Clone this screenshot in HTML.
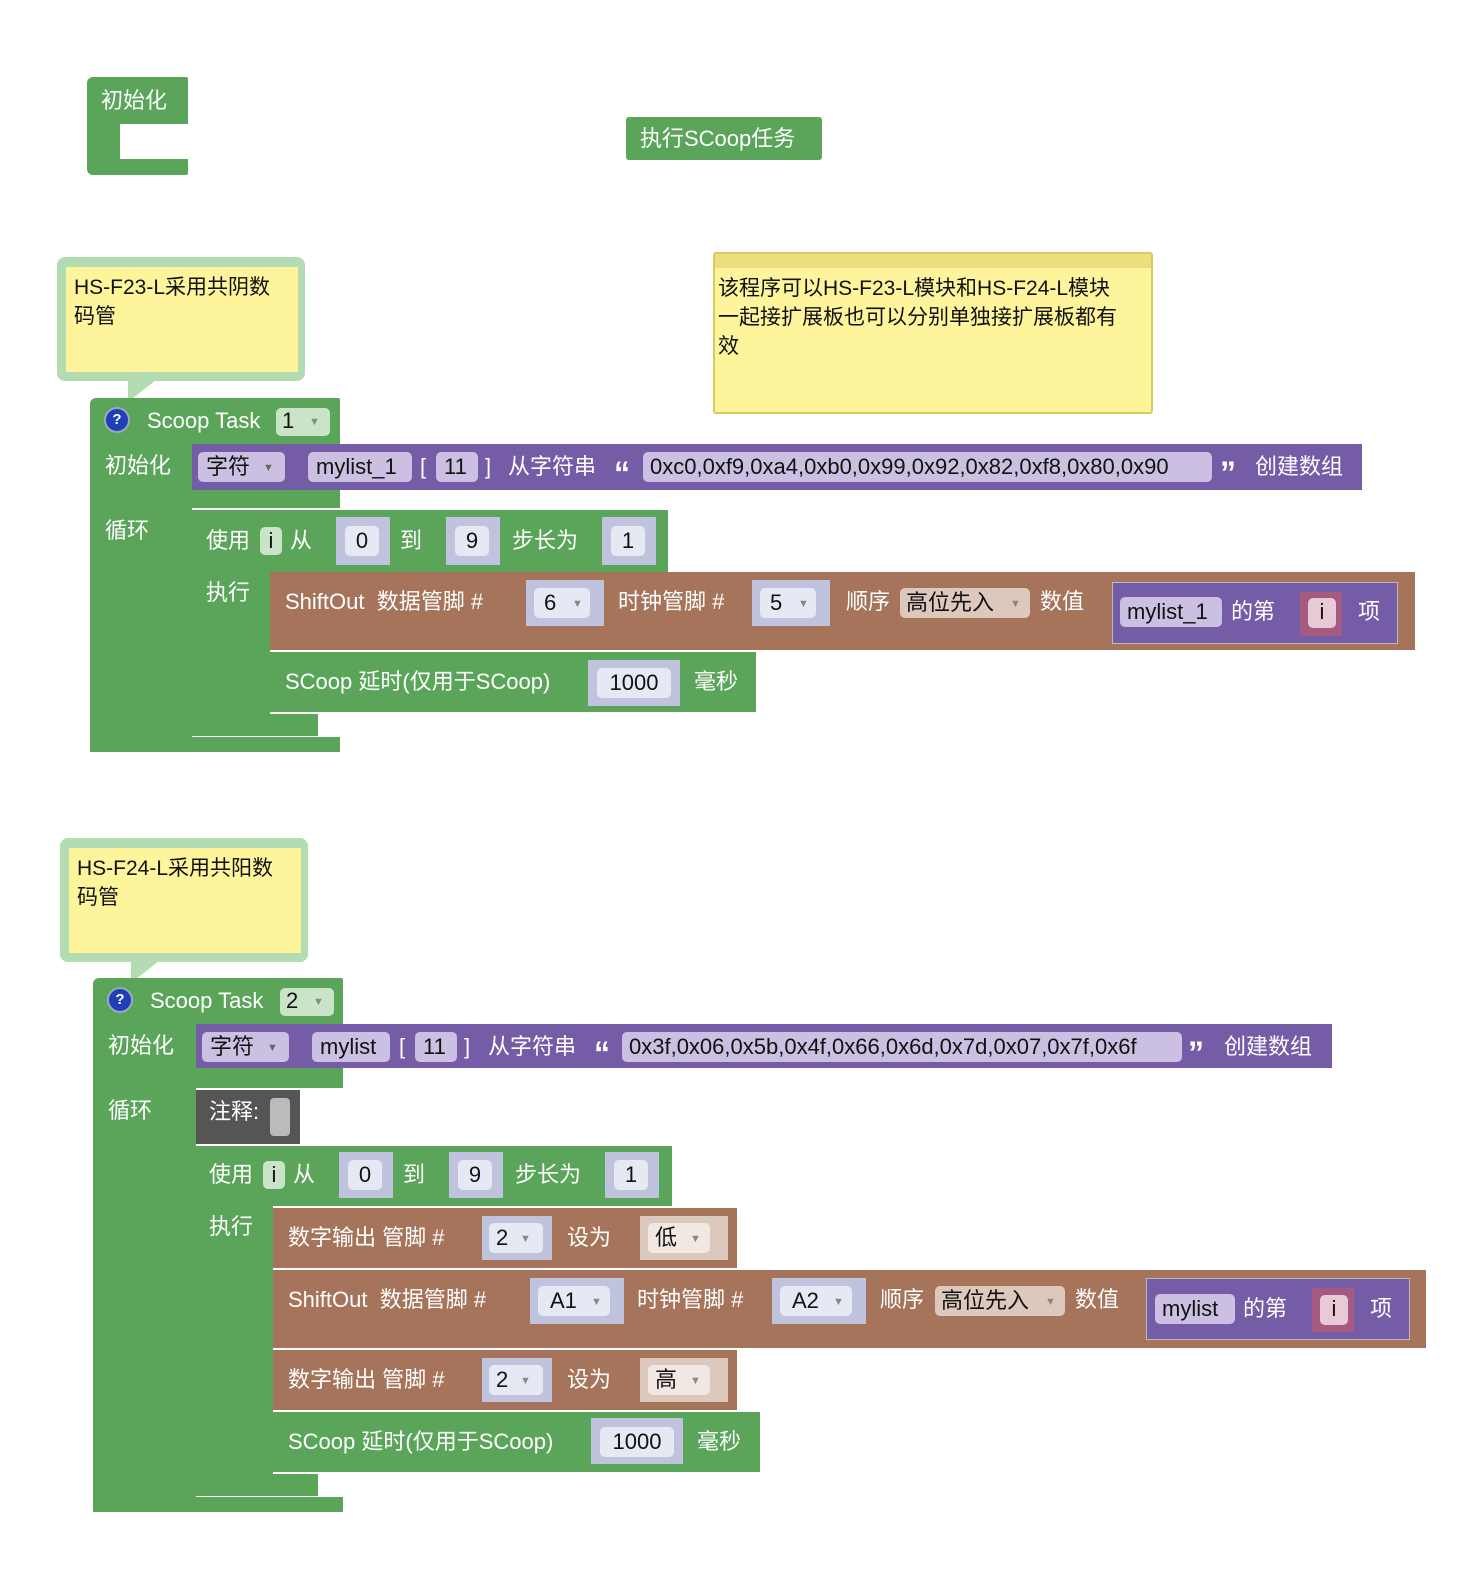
<!DOCTYPE html>
<html><head><meta charset="utf-8"><style>
body{margin:0;width:1477px;height:1587px;background:#fff;position:relative;overflow:hidden;font-family:"Liberation Sans","Noto Sans CJK SC",sans-serif}
div{position:absolute;box-sizing:border-box}
.g{background:#5ba55b}.p{background:#745ca6}.b{background:#a5745b}.d{background:#555}
.t{color:#fff;font-size:22px;line-height:30px;white-space:nowrap}
.q{color:#fff;font-size:32px;font-weight:bold;line-height:30px;white-space:nowrap}
.k{color:#111;font-size:22px;line-height:30px;white-space:nowrap;text-align:center}
.fp{background:#cbc0e2;border-radius:5px}
.fg{background:#c9e4c9;border-radius:5px}
.so{background:#c0c3dd}
.fi{background:#e6e8f4;border-radius:5px}
.fb{background:#dcc8bd;border-radius:5px}
.ar{color:#888;font-size:11px}
.cm{background:#fef49c;color:#111;font-size:21px;line-height:29px;padding:6px 8px}
</style></head><body>

<div class="g" style="left:87px;top:77px;width:101px;height:98px;border-radius:6px 2px 2px 6px"></div>
<div style="left:120px;top:124px;width:68px;height:35px;background:#fff"></div>
<div class="t" style="left:101px;top:86px">初始化</div>
<div class="g" style="left:626px;top:117px;width:196px;height:43px;border-radius:3px"></div>
<div class="t" style="left:640px;top:124px">执行SCoop任务</div>

<div style="left:57px;top:257px;width:248px;height:124px;background:#b3dcb2;border-radius:8px"></div>
<div class="cm" style="left:66px;top:267px;width:232px;height:105px">HS-F23-L采用共阴数<br>码管</div>
<div style="left:128px;top:380px;width:0;height:0;border-left:28px solid #b3dcb2;border-bottom:22px solid transparent;"></div>
<div style="left:713px;top:252px;width:440px;height:162px;background:#fef49c;border:2px solid #d8cb5e;border-radius:3px"></div>
<div style="left:715px;top:254px;width:436px;height:14px;background:#ece07e"></div>
<div class="cm" style="left:710px;top:270px;width:425px;padding:4px 8px;background:transparent">该程序可以HS-F23-L模块和HS-F24-L模块一起接扩展板也可以分别单独接扩展板都有效</div>

<!-- BLOCK 1 -->
<div class="g" style="left:90px;top:398px;width:250px;height:46px;border-radius:6px 2px 0 0"></div>
<div class="g" style="left:90px;top:440px;width:102px;height:312px"></div>
<div class="g" style="left:90px;top:737px;width:250px;height:15px"></div>
<div class="g" style="left:192px;top:488px;width:148px;height:20px"></div>
<div style="left:104px;top:407px;width:26px;height:26px;border-radius:50%;background:#1f3fb8;border:2px solid #9ab;color:#fff;font-size:15px;font-weight:bold;text-align:center;line-height:22px">?</div>
<div class="t" style="left:147px;top:406px">Scoop Task</div>
<div class="fg" style="left:276px;top:408px;width:54px;height:28px"></div>
<div class="k" style="left:282px;top:406px">1</div><div class="ar" style="left:309px;top:416px">▼</div>
<div class="t" style="left:105px;top:451px">初始化</div>
<div class="t" style="left:105px;top:516px">循环</div>
<div class="p" style="left:192px;top:444px;width:1170px;height:46px"></div>
<div class="fp" style="left:198px;top:452px;width:87px;height:30px"></div>
<div class="k" style="left:206px;top:452px">字符</div><div class="ar" style="left:263px;top:462px;color:#666">▼</div>
<div class="fp" style="left:308px;top:452px;width:104px;height:30px"></div>
<div class="k" style="left:316px;top:452px">mylist_1</div>
<div class="t" style="left:420px;top:452px">[</div>
<div class="fp" style="left:436px;top:452px;width:42px;height:30px"></div>
<div class="k" style="left:444px;top:452px">11</div>
<div class="t" style="left:485px;top:452px">]</div>
<div class="t" style="left:508px;top:452px">从字符串</div>
<div class="q" style="left:614px;top:458px">“</div>
<div class="fp" style="left:643px;top:452px;width:569px;height:30px"></div>
<div class="k" style="left:650px;top:452px">0xc0,0xf9,0xa4,0xb0,0x99,0x92,0x82,0xf8,0x80,0x90</div>
<div class="q" style="left:1220px;top:458px">”</div>
<div class="t" style="left:1255px;top:452px">创建数组</div>
<div class="g" style="left:192px;top:510px;width:476px;height:62px"></div>
<div class="g" style="left:192px;top:560px;width:78px;height:176px"></div>
<div class="g" style="left:192px;top:714px;width:126px;height:22px"></div>
<div class="t" style="left:206px;top:526px">使用</div>
<div class="fg" style="left:260px;top:527px;width:22px;height:28px"></div><div class="k" style="left:260px;top:526px;width:22px">i</div>
<div class="t" style="left:290px;top:526px">从</div>
<div class="so" style="left:336px;top:517px;width:54px;height:48px"></div><div class="fi" style="left:345px;top:526px;width:34px;height:30px"></div><div class="k" style="left:345px;top:526px;width:34px">0</div>
<div class="t" style="left:400px;top:526px">到</div>
<div class="so" style="left:446px;top:517px;width:54px;height:48px"></div><div class="fi" style="left:455px;top:526px;width:34px;height:30px"></div><div class="k" style="left:455px;top:526px;width:34px">9</div>
<div class="t" style="left:512px;top:526px">步长为</div>
<div class="so" style="left:602px;top:517px;width:54px;height:48px"></div><div class="fi" style="left:611px;top:526px;width:34px;height:30px"></div><div class="k" style="left:611px;top:526px;width:34px">1</div>
<div class="t" style="left:206px;top:578px">执行</div>
<div class="b" style="left:270px;top:572px;width:1145px;height:78px"></div>
<div class="t" style="left:285px;top:587px">ShiftOut&nbsp; 数据管脚 #</div>
<div class="so" style="left:526px;top:580px;width:78px;height:46px"></div><div class="fi" style="left:534px;top:588px;width:56px;height:30px"></div><div class="k" style="left:544px;top:588px">6</div><div class="ar" style="left:572px;top:598px">▼</div>
<div class="t" style="left:618px;top:587px">时钟管脚 #</div>
<div class="so" style="left:752px;top:580px;width:78px;height:46px"></div><div class="fi" style="left:760px;top:588px;width:56px;height:30px"></div><div class="k" style="left:770px;top:588px">5</div><div class="ar" style="left:798px;top:598px">▼</div>
<div class="t" style="left:846px;top:587px">顺序</div>
<div class="fb" style="left:900px;top:588px;width:130px;height:30px"></div><div class="k" style="left:906px;top:588px">高位先入</div><div class="ar" style="left:1010px;top:598px">▼</div>
<div class="t" style="left:1040px;top:587px">数值</div>
<div class="p" style="left:1112px;top:582px;width:286px;height:62px;border:1px solid #bbb"></div>
<div class="fp" style="left:1120px;top:597px;width:102px;height:30px"></div><div class="k" style="left:1127px;top:597px">mylist_1</div>
<div class="t" style="left:1231px;top:597px">的第</div>
<div style="left:1300px;top:592px;width:42px;height:44px;background:#a55b80"></div><div style="left:1308px;top:598px;width:28px;height:30px;background:#e8c9d6;border-radius:5px"></div><div class="k" style="left:1308px;top:597px;width:28px">i</div>
<div class="t" style="left:1358px;top:597px">项</div>
<div class="g" style="left:270px;top:652px;width:486px;height:60px"></div>
<div class="t" style="left:285px;top:667px">SCoop 延时(仅用于SCoop)</div>
<div class="so" style="left:588px;top:660px;width:92px;height:46px"></div><div class="fi" style="left:597px;top:668px;width:74px;height:30px"></div><div class="k" style="left:597px;top:668px;width:74px">1000</div>
<div class="t" style="left:694px;top:667px">毫秒</div>

<div style="left:60px;top:838px;width:248px;height:124px;background:#b3dcb2;border-radius:8px"></div>
<div class="cm" style="left:69px;top:848px;width:232px;height:105px">HS-F24-L采用共阳数<br>码管</div>
<div style="left:131px;top:961px;width:0;height:0;border-left:28px solid #b3dcb2;border-bottom:22px solid transparent;"></div>

<!-- BLOCK 2 -->
<div class="g" style="left:93px;top:978px;width:250px;height:46px;border-radius:6px 2px 0 0"></div>
<div class="g" style="left:93px;top:1020px;width:103px;height:492px"></div>
<div class="g" style="left:93px;top:1497px;width:250px;height:15px"></div>
<div class="g" style="left:196px;top:1068px;width:147px;height:20px"></div>
<div style="left:107px;top:987px;width:26px;height:26px;border-radius:50%;background:#1f3fb8;border:2px solid #9ab;color:#fff;font-size:15px;font-weight:bold;text-align:center;line-height:22px">?</div>
<div class="t" style="left:150px;top:986px">Scoop Task</div>
<div class="fg" style="left:280px;top:988px;width:54px;height:28px"></div>
<div class="k" style="left:286px;top:986px">2</div><div class="ar" style="left:313px;top:996px">▼</div>
<div class="t" style="left:108px;top:1031px">初始化</div>
<div class="t" style="left:108px;top:1096px">循环</div>
<div class="p" style="left:196px;top:1024px;width:1136px;height:44px"></div>
<div class="fp" style="left:202px;top:1032px;width:87px;height:30px"></div>
<div class="k" style="left:210px;top:1032px">字符</div><div class="ar" style="left:267px;top:1042px;color:#666">▼</div>
<div class="fp" style="left:312px;top:1032px;width:78px;height:30px"></div>
<div class="k" style="left:320px;top:1032px">mylist</div>
<div class="t" style="left:399px;top:1032px">[</div>
<div class="fp" style="left:415px;top:1032px;width:42px;height:30px"></div>
<div class="k" style="left:423px;top:1032px">11</div>
<div class="t" style="left:464px;top:1032px">]</div>
<div class="t" style="left:488px;top:1032px">从字符串</div>
<div class="q" style="left:594px;top:1038px">“</div>
<div class="fp" style="left:622px;top:1032px;width:560px;height:30px"></div>
<div class="k" style="left:629px;top:1032px">0x3f,0x06,0x5b,0x4f,0x66,0x6d,0x7d,0x07,0x7f,0x6f</div>
<div class="q" style="left:1188px;top:1038px">”</div>
<div class="t" style="left:1224px;top:1032px">创建数组</div>
<div class="d" style="left:196px;top:1090px;width:104px;height:54px"></div>
<div class="t" style="left:209px;top:1097px">注释:</div>
<div style="left:270px;top:1098px;width:20px;height:38px;background:#bbb;border-radius:4px"></div>
<div class="g" style="left:196px;top:1146px;width:476px;height:60px"></div>
<div class="g" style="left:196px;top:1200px;width:77px;height:296px"></div>
<div class="g" style="left:196px;top:1474px;width:122px;height:22px"></div>
<div class="t" style="left:209px;top:1160px">使用</div>
<div class="fg" style="left:263px;top:1161px;width:22px;height:28px"></div><div class="k" style="left:263px;top:1160px;width:22px">i</div>
<div class="t" style="left:293px;top:1160px">从</div>
<div class="so" style="left:339px;top:1152px;width:54px;height:46px"></div><div class="fi" style="left:348px;top:1160px;width:34px;height:30px"></div><div class="k" style="left:348px;top:1160px;width:34px">0</div>
<div class="t" style="left:403px;top:1160px">到</div>
<div class="so" style="left:449px;top:1152px;width:54px;height:46px"></div><div class="fi" style="left:458px;top:1160px;width:34px;height:30px"></div><div class="k" style="left:458px;top:1160px;width:34px">9</div>
<div class="t" style="left:515px;top:1160px">步长为</div>
<div class="so" style="left:605px;top:1152px;width:54px;height:46px"></div><div class="fi" style="left:614px;top:1160px;width:34px;height:30px"></div><div class="k" style="left:614px;top:1160px;width:34px">1</div>
<div class="t" style="left:209px;top:1212px">执行</div>
<div class="b" style="left:273px;top:1208px;width:464px;height:60px"></div>
<div class="t" style="left:288px;top:1223px">数字输出 管脚 #</div>
<div class="so" style="left:482px;top:1216px;width:70px;height:44px"></div><div class="fi" style="left:489px;top:1223px;width:54px;height:30px"></div><div class="k" style="left:496px;top:1223px">2</div><div class="ar" style="left:520px;top:1233px">▼</div>
<div class="t" style="left:567px;top:1223px">设为</div>
<div style="left:640px;top:1216px;width:88px;height:44px;background:#dcc8bd"></div><div style="left:648px;top:1223px;width:62px;height:30px;background:#f1e8e4;border-radius:5px"></div><div class="k" style="left:655px;top:1223px">低</div><div class="ar" style="left:690px;top:1233px">▼</div>
<div class="b" style="left:273px;top:1270px;width:1153px;height:78px"></div>
<div class="t" style="left:288px;top:1285px">ShiftOut&nbsp; 数据管脚 #</div>
<div class="so" style="left:530px;top:1278px;width:94px;height:46px"></div><div class="fi" style="left:538px;top:1286px;width:72px;height:30px"></div><div class="k" style="left:550px;top:1286px">A1</div><div class="ar" style="left:591px;top:1296px">▼</div>
<div class="t" style="left:637px;top:1285px">时钟管脚 #</div>
<div class="so" style="left:772px;top:1278px;width:94px;height:46px"></div><div class="fi" style="left:780px;top:1286px;width:72px;height:30px"></div><div class="k" style="left:792px;top:1286px">A2</div><div class="ar" style="left:833px;top:1296px">▼</div>
<div class="t" style="left:880px;top:1285px">顺序</div>
<div class="fb" style="left:935px;top:1286px;width:130px;height:30px"></div><div class="k" style="left:941px;top:1286px">高位先入</div><div class="ar" style="left:1045px;top:1296px">▼</div>
<div class="t" style="left:1075px;top:1285px">数值</div>
<div class="p" style="left:1146px;top:1278px;width:264px;height:62px;border:1px solid #bbb"></div>
<div class="fp" style="left:1155px;top:1294px;width:80px;height:30px"></div><div class="k" style="left:1162px;top:1294px">mylist</div>
<div class="t" style="left:1243px;top:1294px">的第</div>
<div style="left:1312px;top:1288px;width:42px;height:44px;background:#a55b80"></div><div style="left:1320px;top:1295px;width:28px;height:30px;background:#e8c9d6;border-radius:5px"></div><div class="k" style="left:1320px;top:1294px;width:28px">i</div>
<div class="t" style="left:1370px;top:1294px">项</div>
<div class="b" style="left:273px;top:1350px;width:464px;height:60px"></div>
<div class="t" style="left:288px;top:1365px">数字输出 管脚 #</div>
<div class="so" style="left:482px;top:1358px;width:70px;height:44px"></div><div class="fi" style="left:489px;top:1365px;width:54px;height:30px"></div><div class="k" style="left:496px;top:1365px">2</div><div class="ar" style="left:520px;top:1375px">▼</div>
<div class="t" style="left:567px;top:1365px">设为</div>
<div style="left:640px;top:1358px;width:88px;height:44px;background:#dcc8bd"></div><div style="left:648px;top:1365px;width:62px;height:30px;background:#f1e8e4;border-radius:5px"></div><div class="k" style="left:655px;top:1365px">高</div><div class="ar" style="left:690px;top:1375px">▼</div>
<div class="g" style="left:273px;top:1412px;width:487px;height:60px"></div>
<div class="t" style="left:288px;top:1427px">SCoop 延时(仅用于SCoop)</div>
<div class="so" style="left:591px;top:1418px;width:92px;height:46px"></div><div class="fi" style="left:600px;top:1427px;width:74px;height:30px"></div><div class="k" style="left:600px;top:1427px;width:74px">1000</div>
<div class="t" style="left:697px;top:1427px">毫秒</div>
</body></html>
